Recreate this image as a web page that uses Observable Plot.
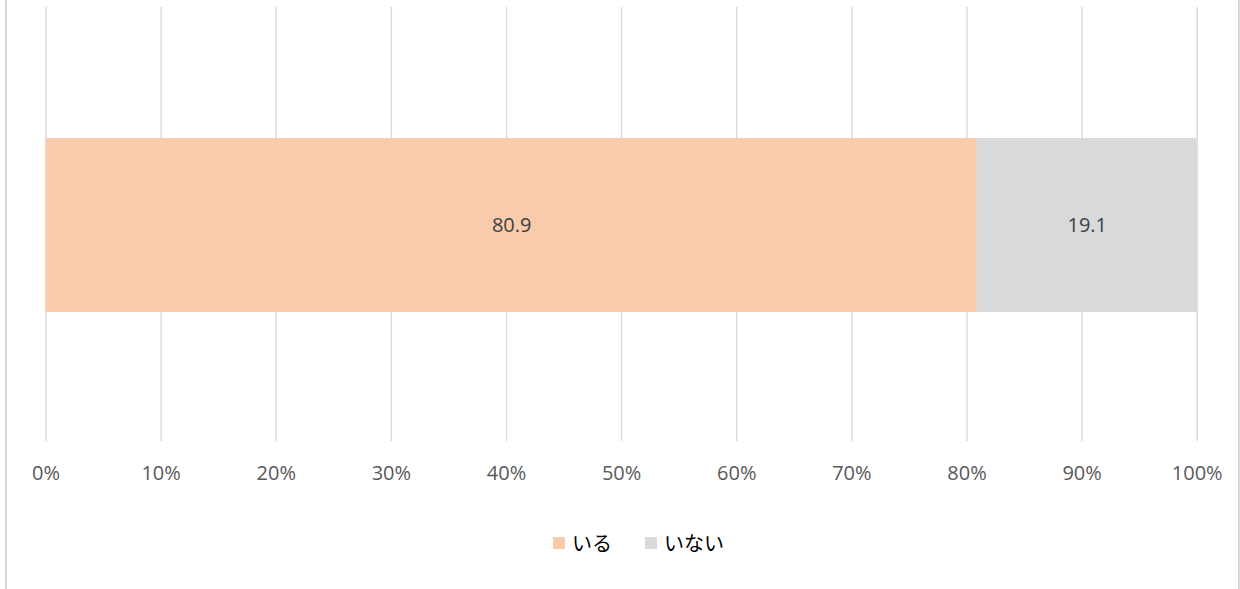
<!DOCTYPE html>
<html>
<head>
<meta charset="utf-8">
<script src="https://cdn.jsdelivr.net/npm/d3@7"></script>
<script src="https://cdn.jsdelivr.net/npm/@observablehq/plot@0.6"></script>
<style>
  html, body { margin: 0; padding: 0; background: #fff; }
  #wrap { position: relative; width: 1240px; height: 589px; overflow: hidden; }
  .bl { position: absolute; top: 0; width: 2px; height: 589px; background: #d9d9d9; }
  #legend { position: absolute; top: 531px; left: 553px; display: flex; align-items: center;
            font-family: "Noto Sans CJK JP", sans-serif; font-size: 20px; line-height: 24px; color: #000; }
  .sw { width: 12px; height: 12px; display: inline-block; margin-right: 7px; }
  .item { display: flex; align-items: center; margin-right: 33px; }
</style>
</head>
<body>
<div id="wrap">
  <div class="bl" style="left:5px"></div>
  <div class="bl" style="left:1238px"></div>
  <div id="chart"></div>
  <div id="legend"></div>
</div>
<script>
const categories = ["いる", "いない"];
const values = [80.9, 19.1];
const colors = ["#F8CBAD", "#D9D9D9"];
const ticks = [0, 10, 20, 30, 40, 50, 60, 70, 80, 90, 100];

const data = categories.map((c, i) => ({category: c, value: values[i]}));

const plot = Plot.plot({
  width: 1240,
  height: 500,
  marginLeft: 45.5,
  marginRight: 43.3,
  marginTop: 7,
  marginBottom: 59,
  style: {fontFamily: "'Open Sans', sans-serif", background: "transparent"},
  x: {domain: [0, 100], label: null},
  color: {domain: categories, range: colors},
  marks: [
    Plot.gridX(ticks, {stroke: "#d9d9d9", strokeOpacity: 1, strokeWidth: 1.4}),
    Plot.barX(data, Plot.stackX({x: "value", fill: "category", order: categories, insetTop: 131, insetBottom: 129})),
    Plot.text(data, Plot.stackX({x: "value", z: "category", order: categories, text: d => d.value.toFixed(1),
      fontSize: 20, fill: "#404040", frameAnchor: "middle", dy: 1})),
    Plot.axisX(ticks, {tickSize: 0, tickPadding: 24, tickFormat: d => d + "%", fontSize: 20, color: "#595959", fill: "#595959", label: null})
  ]
});
document.getElementById("chart").appendChild(plot);

const legend = document.getElementById("legend");
categories.forEach((c, i) => {
  const item = document.createElement("div");
  item.className = "item";
  const sw = document.createElement("span");
  sw.className = "sw";
  sw.style.background = colors[i];
  const t = document.createElement("span");
  t.textContent = c;
  item.appendChild(sw);
  item.appendChild(t);
  legend.appendChild(item);
});
</script>
</body>
</html>
